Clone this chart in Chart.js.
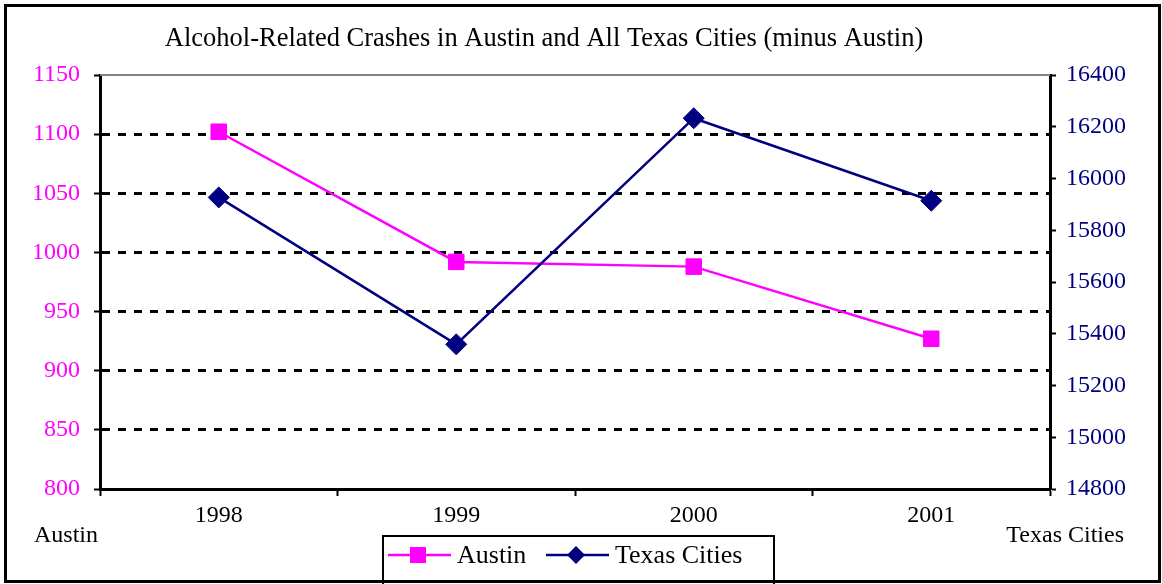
<!DOCTYPE html>
<html>
<head>
<meta charset="utf-8">
<title>Alcohol-Related Crashes</title>
<script src="https://cdn.jsdelivr.net/npm/chart.js"></script>
<style>
  html, body { margin: 0; padding: 0; background: #fff; }
  #wrap { width: 1162px; height: 584px; position: relative; }
</style>
</head>
<body>
<div id="wrap"><canvas id="crashChart"></canvas></div>
<script>
  // Data
  const years = ['1998', '1999', '2000', '2001'];
  const austinCrashes = [1102, 992, 988, 927];
  const texasCrashes = [15927, 15359, 16233, 15914];
  const chartTitle = 'Alcohol-Related Crashes in Austin and All Texas Cities (minus Austin)';
  const leftAxisLabel = 'Austin';
  const rightAxisLabel = 'Texas Cities';

  const SERIF = '"Liberation Serif", "Times New Roman", serif';
  const MAGENTA = '#ff00ff';
  const NAVY = '#000080';

  // Frame, title, side labels and boxed legend, drawn like the original
  const decorations = {
    id: 'decorations',
    afterDraw(chart) {
      const ctx = chart.ctx;
      const area = chart.chartArea;
      ctx.save();

      // gray top edge of plot area
      ctx.strokeStyle = '#808080';
      ctx.lineWidth = 2;
      ctx.beginPath();
      ctx.moveTo(area.left, area.top);
      ctx.lineTo(area.right, area.top);
      ctx.stroke();

      // title
      ctx.fillStyle = '#000';
      ctx.font = '26.5px ' + SERIF;
      ctx.textAlign = 'center';
      ctx.textBaseline = 'alphabetic';
      ctx.fillText(chartTitle, 544, 46);

      // side labels
      ctx.font = '24px ' + SERIF;
      ctx.textAlign = 'left';
      ctx.fillText(leftAxisLabel, 34, 542);
      ctx.textAlign = 'right';
      ctx.fillText(rightAxisLabel, 1124, 542);

      // legend box
      ctx.strokeStyle = '#000';
      ctx.lineWidth = 2;
      ctx.strokeRect(383, 536, 391, 60);

      const items = chart.data.datasets.map((ds, i) => ({
        text: ds.label,
        color: ds.borderColor,
        style: ds.pointStyle,
        x: i === 0 ? 388 : 546
      }));
      ctx.font = '26px ' + SERIF;
      ctx.textAlign = 'left';
      items.forEach(item => {
        const y = 555;
        ctx.strokeStyle = item.color;
        ctx.lineWidth = 2.5;
        ctx.beginPath();
        ctx.moveTo(item.x, y);
        ctx.lineTo(item.x + 63, y);
        ctx.stroke();
        const cx = item.x + 30;
        ctx.fillStyle = item.color;
        if (item.style === 'rect') {
          ctx.fillRect(cx - 8, y - 8, 16, 16);
        } else {
          ctx.beginPath();
          ctx.moveTo(cx - 9, y);
          ctx.lineTo(cx, y - 9);
          ctx.lineTo(cx + 9, y);
          ctx.lineTo(cx, y + 9);
          ctx.closePath();
          ctx.fill();
        }
        ctx.fillStyle = '#000';
        ctx.fillText(item.text, item.x + 69, 563);
      });

      // outer frame
      ctx.strokeStyle = '#000';
      ctx.lineWidth = 3;
      ctx.strokeRect(5.5, 5.5, 1154, 576);
      ctx.restore();
    }
  };

  const plainNumber = value => String(value);

  const ctx = document.getElementById('crashChart').getContext('2d');
  const crashChart = new Chart(ctx, {
    type: 'line',
    data: {
      labels: years,
      datasets: [
        {
          label: 'Austin',
          data: austinCrashes,
          yAxisID: 'y',
          borderColor: MAGENTA,
          backgroundColor: MAGENTA,
          borderWidth: 2.5,
          pointStyle: 'rect',
          pointRadius: 11,
          pointBorderWidth: 1,
          tension: 0,
          fill: false,
          order: 2,
        },
        {
          label: 'Texas Cities',
          data: texasCrashes,
          yAxisID: 'y1',
          borderColor: NAVY,
          backgroundColor: NAVY,
          borderWidth: 2.5,
          pointStyle: 'rectRot',
          pointRadius: 10.5,
          pointBorderWidth: 1,
          tension: 0,
          fill: false,
          order: 1,
        },
      ],
    },
    options: {
      responsive: true,
      maintainAspectRatio: false,
      animation: false,
      layout: {
        padding: { top: 75, left: 0, right: 0, bottom: 45 },
      },
      plugins: {
        legend: { display: false },
        title: { display: false },
        tooltip: { enabled: false },
      },
      scales: {
        x: {
          offset: true,
          afterFit(scale) { scale.height = 50; },
          grid: {
            offset: true,
            drawOnChartArea: false,
            tickLength: 7,
            tickWidth: 2,
            tickColor: '#000',
          },
          border: { color: '#000', width: 3 },
          ticks: {
            color: '#000',
            padding: 5,
            font: { family: SERIF, size: 24 },
          },
        },
        y: {
          position: 'left',
          min: 800,
          max: 1150,
          afterFit(scale) { scale.width = 100; },
          ticks: {
            stepSize: 50,
            color: MAGENTA,
            padding: 14,
            callback: plainNumber,
            font: { family: SERIF, size: 24 },
          },
          grid: {
            color: c => (c.tick && c.tick.value === 1150) ? 'rgba(0,0,0,0)' : '#000',
            lineWidth: 3,
            tickLength: 6,
            tickWidth: 2,
            tickColor: '#000',
          },
          border: { color: '#000', width: 3, dash: [8, 8] },
        },
        y1: {
          position: 'right',
          min: 14800,
          max: 16400,
          afterFit(scale) { scale.width = 112; },
          ticks: {
            stepSize: 200,
            color: NAVY,
            padding: 10,
            callback: plainNumber,
            font: { family: SERIF, size: 24 },
          },
          grid: {
            drawOnChartArea: false,
            tickLength: 6,
            tickWidth: 2,
            tickColor: '#000',
          },
          border: { color: '#000', width: 3 },
        },
      },
    },
    plugins: [decorations],
  });
</script>
</body>
</html>
